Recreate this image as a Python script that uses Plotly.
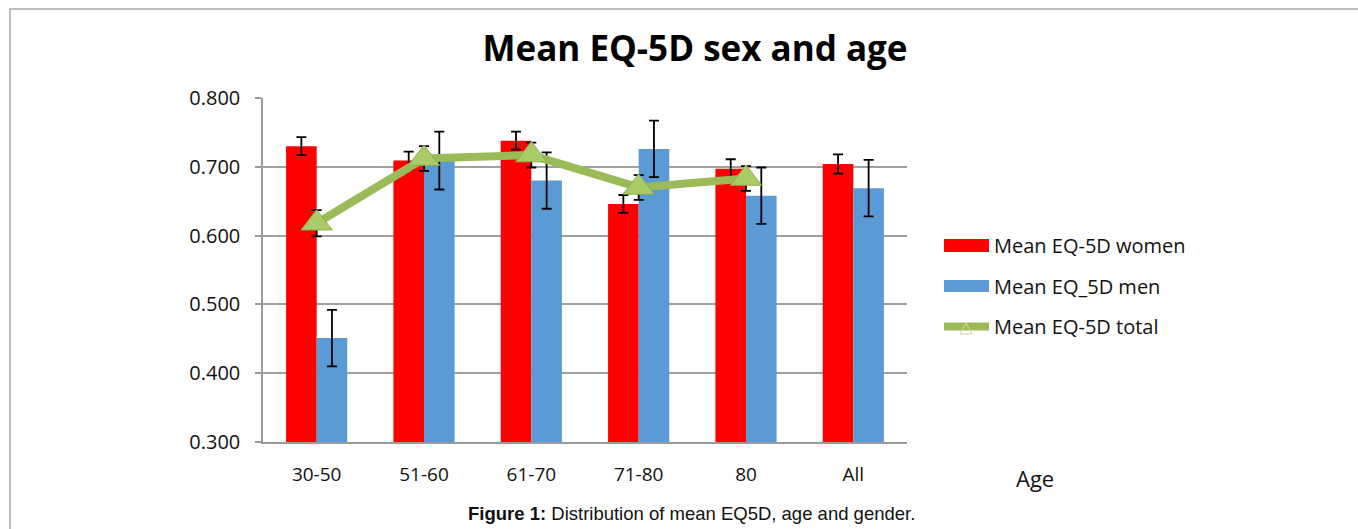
import plotly.graph_objects as go

categories = ["30-50", "51-60", "61-70", "71-80", "80", "All"]
women = [0.730, 0.709, 0.738, 0.646, 0.697, 0.704]
women_err = [0.013, 0.013, 0.013, 0.013, 0.014, 0.014]
men = [0.451, 0.709, 0.680, 0.726, 0.658, 0.669]
men_err = [0.041, 0.042, 0.041, 0.041, 0.041, 0.041]
total_cats = ["30-50", "51-60", "61-70", "71-80", "80"]
total = [0.618, 0.712, 0.717, 0.670, 0.683]
total_err = [0.019, 0.018, 0.018, 0.018, 0.018]

W, H = 1358, 529
L, R, T, B = 263, 907, 98, 442  # plot area in px


def px(x):
    return (x - L) / (R - L)


def py(y):
    return (B - y) / (B - T)


FONT = "Open Sans"

fig = go.Figure()
fig.add_trace(go.Bar(
    x=categories, y=women, name="Mean EQ-5D women",
    marker=dict(color="#FF0000", line=dict(width=0)),
    error_y=dict(type="data", array=women_err, color="black", thickness=1.8, width=5),
    showlegend=False,
))
fig.add_trace(go.Bar(
    x=categories, y=men, name="Mean EQ_5D men",
    marker=dict(color="#5B9BD5", line=dict(width=0)),
    error_y=dict(type="data", array=men_err, color="black", thickness=1.8, width=5),
    showlegend=False,
))
fig.add_trace(go.Scatter(
    x=total_cats, y=total, name="Mean EQ-5D total", mode="lines+markers",
    line=dict(color="#9BBB59", width=8),
    marker=dict(symbol="triangle-up", size=27, color="#A9CB68",
                line=dict(color="#8DAE4E", width=1)),
    error_y=dict(type="data", array=total_err, color="black", thickness=1.8, width=5),
    showlegend=False,
))

shapes = []
# outer rounded frame (extends beyond the bottom/right of the image)
shapes.append(dict(type="rect", xref="paper", yref="paper",
                   x0=px(10), x1=px(1400), y0=py(9), y1=py(560),
                   line=dict(color="#A8A8A8", width=1.5), fillcolor="rgba(0,0,0,0)",
                   layer="below"))
# legend swatches
shapes.append(dict(type="rect", xref="paper", yref="paper",
                   x0=px(944), x1=px(989), y0=py(239), y1=py(252),
                   line=dict(width=0), fillcolor="#FF0000"))
shapes.append(dict(type="rect", xref="paper", yref="paper",
                   x0=px(944), x1=px(989), y0=py(280), y1=py(292),
                   line=dict(width=0), fillcolor="#5B9BD5"))
shapes.append(dict(type="line", xref="paper", yref="paper",
                   x0=px(944), x1=px(989), y0=py(326.5), y1=py(326.5),
                   line=dict(color="#9BBB59", width=8)))
shapes.append(dict(type="path", xref="paper", yref="paper",
                   path="M {:.5f},{:.5f} L {:.5f},{:.5f} L {:.5f},{:.5f} Z".format(
                       px(960), py(334), px(972), py(334), px(966), py(323)),
                   line=dict(color="#C9DBA5", width=1), fillcolor="rgba(0,0,0,0)"))

annotations = []
for txt, yy in [("Mean EQ-5D women", 245), ("Mean EQ_5D men", 286), ("Mean EQ-5D total", 326)]:
    annotations.append(dict(text=txt, xref="paper", yref="paper", x=px(992), y=py(yy),
                            xanchor="left", yanchor="middle", showarrow=False,
                            font=dict(family=FONT, size=20, color="#111")))
annotations.append(dict(text="Age", xref="paper", yref="paper", x=px(1035), y=py(478),
                        xanchor="center", yanchor="middle", showarrow=False,
                        font=dict(family=FONT, size=22, color="#111")))
annotations.append(dict(text="<b>Figure 1:</b> Distribution of mean EQ5D, age and gender.",
                        xref="paper", yref="paper", x=px(691), y=py(513),
                        xanchor="center", yanchor="middle", showarrow=False,
                        font=dict(family="Liberation Sans", size=18.5, color="#111")))

fig.update_layout(
    width=W, height=H,
    margin=dict(l=L, r=W - R, t=T, b=H - B, pad=0),
    paper_bgcolor="white", plot_bgcolor="white",
    barmode="group", bargap=0.43, bargroupgap=0,
    title=dict(text="<b>Mean EQ-5D sex and age</b>", x=695 / W, xanchor="center",
               y=1 - 49 / H, yanchor="middle", yref="container",
               font=dict(family=FONT, size=35, color="black")),
    shapes=shapes, annotations=annotations,
    xaxis=dict(showline=True, linecolor="#9A9A9A", linewidth=1.5, ticks="",
               tickfont=dict(family=FONT, size=19, color="#111"),
               ticklabelstandoff=14, showgrid=False),
    yaxis=dict(range=[0.3, 0.8], dtick=0.1, tick0=0.3, tickformat=".3f",
               showline=True, linecolor="#9A9A9A", linewidth=1.5,
               ticks="outside", ticklen=6, tickcolor="#9A9A9A", tickwidth=1.5,
               showgrid=True, gridcolor="#A0A0A0", gridwidth=1.5,
               tickfont=dict(family=FONT, size=20, color="#111"),
               ticklabelstandoff=11, zeroline=False),
    showlegend=False,
)

fig.write_html("out.html", config={"displayModeBar": False})

# remove default browser page margin so the figure sits at (0, 0)
with open("out.html", encoding="utf-8") as f:
    html = f.read()
html = html.replace("<head>", "<head><style>html,body{margin:0;padding:0;overflow:hidden;}</style>", 1)
with open("out.html", "w", encoding="utf-8") as f:
    f.write(html)
